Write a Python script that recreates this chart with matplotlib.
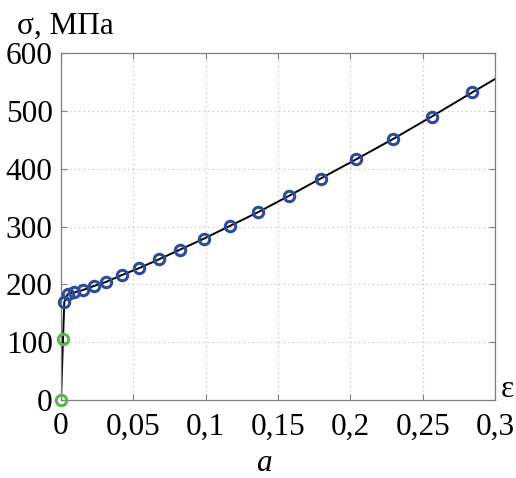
import matplotlib
matplotlib.use('Agg')
import matplotlib.pyplot as plt
import numpy as np

# деформация и напряжение (МПа)
strain_elastic = [0.0, 0.0014]
stress_elastic = [0, 106]

strain_plastic = [0.0023, 0.0046, 0.009, 0.015, 0.0226, 0.031, 0.042, 0.054,
                  0.0675, 0.0823, 0.0988, 0.1168, 0.1364, 0.1576, 0.1795,
                  0.2039, 0.2293, 0.2562, 0.2843]
stress_plastic = [170, 183, 186, 190, 197, 204, 216, 228,
                  243, 260, 279, 301, 325, 353, 383,
                  416, 451, 490, 532]

# конец аппроксимирующей кривой
strain_end = 0.3
stress_end = 555

x_ticks = [0, 0.05, 0.1, 0.15, 0.2, 0.25, 0.3]
x_labels = ['0', '0,05', '0,1', '0,15', '0,2', '0,25', '0,3']
y_ticks = [0, 100, 200, 300, 400, 500, 600]

plt.rcParams['font.family'] = ['Liberation Serif', 'DejaVu Serif']

fig = plt.figure(figsize=(5.16, 4.78), dpi=100)
ax = fig.add_axes([0.1182, 0.1632, 0.8411, 0.7259])

line_x = strain_elastic + strain_plastic + [strain_end]
line_y = stress_elastic + stress_plastic + [stress_end]
ax.plot(line_x, line_y, color='black', linewidth=1.4, zorder=2)

ax.plot(strain_elastic, stress_elastic, 'o', markersize=7.5, markerfacecolor='none',
        markeredgecolor='#5bb54a', markeredgewidth=2.2, zorder=3, clip_on=False)
ax.plot(strain_plastic, stress_plastic, 'o', markersize=7.5, markerfacecolor='none',
        markeredgecolor='#2d4b98', markeredgewidth=2.2, zorder=3, clip_on=False)

ax.set_xlim(0, 0.3)
ax.set_ylim(0, 600)
ax.set_xticks(x_ticks)
ax.set_xticklabels(x_labels)
ax.set_yticks(y_ticks)

ax.grid(True, linestyle=(0, (1, 3)), color='#b8b8b8', linewidth=0.8)
for s in ax.spines.values():
    s.set_color('#7f7f7f')
    s.set_linewidth(0.9)
ax.tick_params(direction='in', length=4, color='#7f7f7f', labelsize=22.5,
               top=True, right=True)
ax.tick_params(axis='x', pad=9)
ax.tick_params(axis='y', pad=6)

fig.text(0.033, 0.944, 'σ, МПа', fontsize=22.5, ha='left', va='center')
fig.text(0.983, 0.185, 'ε', fontsize=22.5, ha='center', va='center')
fig.text(0.512, 0.03, 'a', fontsize=22.5, style='italic', ha='center', va='center')

fig.savefig('out.png', dpi=100)
